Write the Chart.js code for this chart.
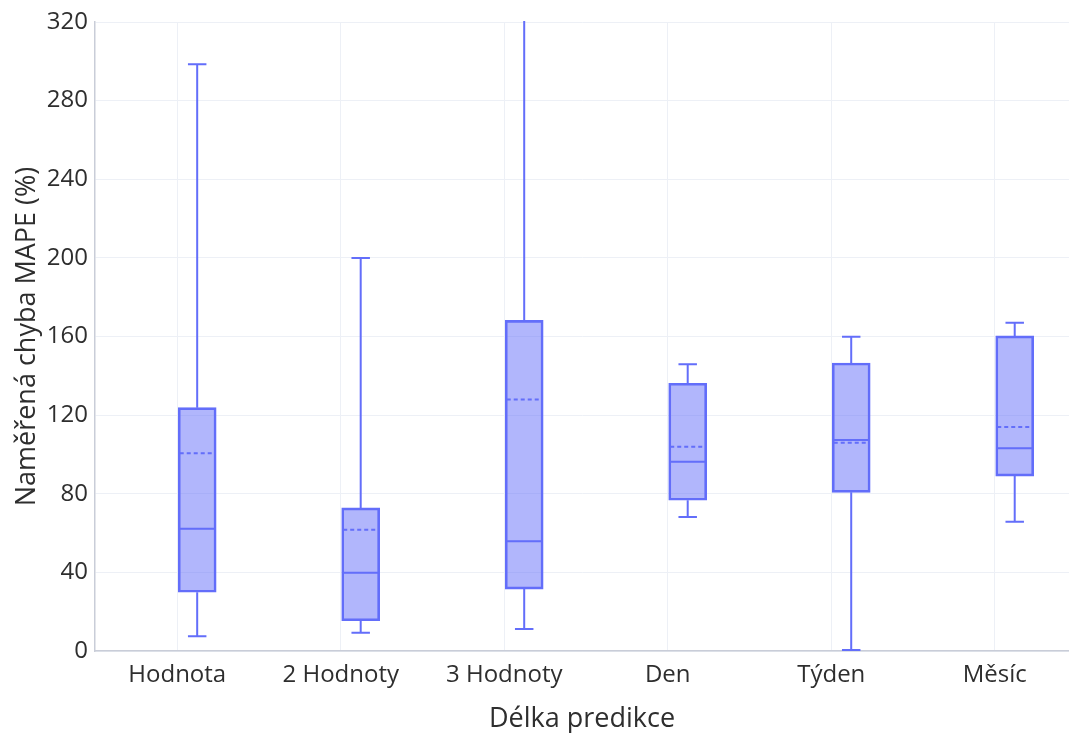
<!DOCTYPE html>
<html lang="cs">
<head>
<meta charset="utf-8">
<title>MAPE podle délky predikce</title>
<script src="https://cdn.jsdelivr.net/npm/chart.js@4/dist/chart.umd.min.js"></script>
<style>
  html, body { margin: 0; padding: 0; background: #ffffff; }
  #wrap { width: 1069px; height: 733px; position: relative; }
</style>
</head>
<body>
<div id="wrap"><canvas id="c" width="1069" height="733"></canvas></div>
<script>
// Kategorie (délka predikce)
const categories = ['Hodnota', '2 Hodnoty', '3 Hodnoty', 'Den', 'Týden', 'Měsíc'];

// Statistiky krabicových grafů – MAPE (%)
const whiskerLow  = [7.5, 9.3, 11.2, 68.2, 0.5, 65.8];
const quartile1   = [29.9, 15.4, 31.5, 76.7, 80.7, 89.0];
const medians     = [62.2, 39.8, 55.8, 96.3, 107.3, 103.1];
const means       = [100.6, 61.7, 128.0, 103.9, 106.0, 114.0];
const quartile3   = [123.8, 72.8, 168.2, 136.2, 146.5, 160.3];
const whiskerHigh = [298.5, 200.0, 345.0, 145.9, 159.9, 167.0];

// Hodnoty popisků osy Y
const yTicks = [0, 40, 80, 120, 160, 200, 240, 280, 320];

const LINE = '#636efa';
const FILL = 'rgba(99,110,250,0.5)';
const TEXT = '#2e2e2e';
const GRID = '#edf0f6';
const AXIS = '#c9cdd8';
const BOX_SHIFT = 0.122;   // posun krabic vpravo od středu kategorie
const BOX_HALF = 0.113;    // polovina šířky krabice (jednotky osy x)

const boxData = categories.map((c, i) => ({ x: i + BOX_SHIFT, y: [quartile1[i], quartile3[i]] }));

// Vousy, medián a průměr vykreslené přes měřítka grafu
const boxExtras = {
  id: 'boxExtras',
  afterDatasetsDraw(chart) {
    const { ctx, chartArea, scales: { x, y } } = chart;
    ctx.save();
    ctx.beginPath();
    ctx.rect(chartArea.left, chartArea.top - 1, chartArea.right - chartArea.left, chartArea.bottom - chartArea.top + 2);
    ctx.clip();
    ctx.strokeStyle = LINE;
    ctx.lineWidth = 2;
    categories.forEach((c, i) => {
      const cx = x.getPixelForValue(i + BOX_SHIFT);
      const xl = x.getPixelForValue(i + BOX_SHIFT - BOX_HALF) + 1;
      const xr = x.getPixelForValue(i + BOX_SHIFT + BOX_HALF) - 1;
      const capL = x.getPixelForValue(i + BOX_SHIFT - BOX_HALF / 2);
      const capR = x.getPixelForValue(i + BOX_SHIFT + BOX_HALF / 2);
      const yLo = y.getPixelForValue(whiskerLow[i]);
      const yQ1 = y.getPixelForValue(quartile1[i]);
      const yQ3 = y.getPixelForValue(quartile3[i]);
      const yHi = y.getPixelForValue(whiskerHigh[i]);
      const yMed = y.getPixelForValue(medians[i]);
      const yMean = y.getPixelForValue(means[i]);

      ctx.setLineDash([]);
      ctx.beginPath();
      // dolní vous
      ctx.moveTo(cx, yQ1); ctx.lineTo(cx, yLo);
      ctx.moveTo(capL, yLo); ctx.lineTo(capR, yLo);
      // horní vous
      ctx.moveTo(cx, yQ3); ctx.lineTo(cx, yHi);
      ctx.moveTo(capL, yHi); ctx.lineTo(capR, yHi);
      // medián
      ctx.moveTo(xl, yMed); ctx.lineTo(xr, yMed);
      ctx.stroke();

      // průměr
      ctx.setLineDash([4, 3]);
      ctx.beginPath();
      ctx.moveTo(xl, yMean); ctx.lineTo(xr, yMean);
      ctx.stroke();
    });
    ctx.restore();
  }
};

new Chart(document.getElementById('c'), {
  type: 'bar',
  data: {
    datasets: [{
      data: boxData,
      backgroundColor: FILL,
      borderColor: LINE,
      borderWidth: 2,
      borderSkipped: false,
      barThickness: 38
    }]
  },
  plugins: [boxExtras],
  options: {
    responsive: false,
    animation: false,
    layout: { padding: { top: 22, right: 0, left: 0, bottom: 0 } },
    plugins: { legend: { display: false }, tooltip: { enabled: false } },
    scales: {
      x: {
        type: 'linear',
        offset: false,
        min: -0.503,
        max: 5.454,
        afterBuildTicks(scale) { scale.ticks = categories.map((c, i) => ({ value: i })); },
        afterFit(scale) { scale.height = 82; },
        ticks: {
          padding: 10,
          color: TEXT,
          font: { family: '"Open Sans", sans-serif', size: 24 },
          callback: (v) => categories[v] ?? ''
        },
        grid: { color: GRID, drawTicks: false, lineWidth: 1, offset: false },
        border: { display: true, color: AXIS, width: 1.5 },
        title: {
          display: true,
          text: 'Délka predikce',
          color: TEXT,
          font: { family: '"Open Sans", sans-serif', size: 27, lineHeight: 1 },
          padding: { top: 0, bottom: 0 }
        }
      },
      y: {
        min: 0,
        max: 320,
        afterBuildTicks(scale) { scale.ticks = yTicks.map(v => ({ value: v })); },
        afterFit(scale) { scale.width = 95; },
        ticks: {
          padding: 7,
          color: TEXT,
          font: { family: '"Open Sans", sans-serif', size: 24 }
        },
        grid: { color: GRID, drawTicks: false, lineWidth: 1 },
        border: { display: true, color: AXIS, width: 1.5 },
        title: {
          display: true,
          text: 'Naměřená chyba MAPE (%)',
          color: TEXT,
          font: { family: '"Open Sans", sans-serif', size: 27 },
          padding: { top: 11, bottom: 0 }
        }
      }
    }
  }
});
</script>
</body>
</html>
